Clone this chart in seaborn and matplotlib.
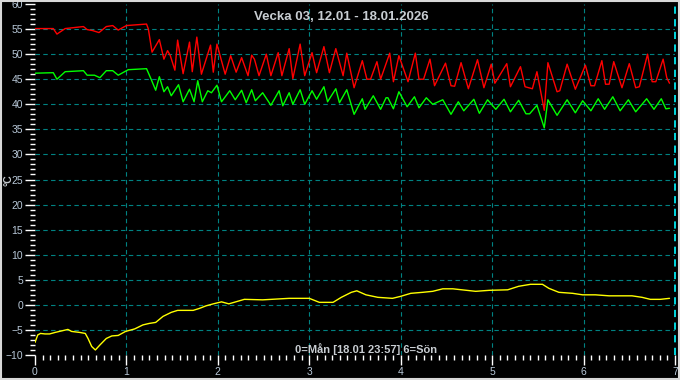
import matplotlib
matplotlib.use('Agg')
import matplotlib.pyplot as plt
import seaborn as sns
import pandas as pd
from matplotlib.ticker import MultipleLocator
from matplotlib.patches import Rectangle

# Turning points, x in days (0=Mån ... 7)
red_t = [0.00, 0.20, 0.24, 0.33, 0.53, 0.57, 0.63, 0.70, 0.78, 0.85, 0.91, 1.00, 1.22, 1.24,
         1.28, 1.36, 1.41, 1.45, 1.48, 1.53, 1.56, 1.62, 1.69, 1.72, 1.77, 1.82, 1.92, 1.95,
         1.99, 2.08, 2.14, 2.20, 2.26, 2.33, 2.37, 2.40, 2.45, 2.53, 2.58, 2.66, 2.70, 2.78,
         2.82, 2.90, 2.95, 3.03, 3.08, 3.16, 3.22, 3.29, 3.37, 3.41, 3.49, 3.58, 3.63, 3.67,
         3.74, 3.78, 3.88, 3.92, 3.98, 4.08, 4.16, 4.20, 4.25, 4.32, 4.37, 4.49, 4.55, 4.59,
         4.66, 4.74, 4.84, 4.91, 4.99, 5.03, 5.16, 5.20, 5.31, 5.36, 5.44, 5.49, 5.57, 5.61,
         5.71, 5.74, 5.82, 5.91, 6.02, 6.08, 6.12, 6.20, 6.24, 6.28, 6.33, 6.42, 6.50, 6.57,
         6.61, 6.70, 6.75, 6.79, 6.87, 6.91, 6.94]
red_v = [55.1, 55.1, 54.0, 55.1, 55.5, 54.9, 54.7, 54.3, 55.5, 55.7, 54.8, 55.7, 56.0, 55.0,
         50.4, 52.9, 49.0, 50.7, 49.7, 46.8, 52.8, 46.1, 52.4, 46.5, 53.4, 46.0, 51.8, 46.4,
         52.0, 46.0, 49.7, 46.4, 49.3, 45.7, 49.8, 49.0, 45.7, 50.0, 45.7, 50.3, 45.7, 51.1,
         45.1, 52.0, 45.7, 50.3, 46.3, 51.5, 46.3, 51.1, 45.7, 50.2, 43.3, 48.7, 45.0, 45.0,
         48.5, 45.0, 50.2, 44.5, 49.7, 44.5, 50.2, 45.0, 45.0, 49.0, 43.7, 48.2, 43.7, 43.6,
         48.3, 43.1, 48.9, 43.3, 48.0, 44.2, 48.1, 43.5, 47.5, 43.5, 43.1, 46.5, 38.8, 48.3,
         42.5, 42.7, 48.0, 43.0, 47.8, 43.7, 43.7, 48.7, 44.0, 44.0, 48.5, 43.3, 48.1, 43.3,
         43.5, 50.0, 44.5, 44.5, 49.0, 45.3, 44.2]

green_t = [0.00, 0.20, 0.24, 0.33, 0.53, 0.57, 0.65, 0.71, 0.78, 0.85, 0.91, 1.02, 1.22, 1.27,
           1.32, 1.36, 1.41, 1.45, 1.49, 1.57, 1.62, 1.69, 1.74, 1.78, 1.83, 1.89, 1.93, 1.99,
           2.04, 2.13, 2.19, 2.26, 2.31, 2.37, 2.41, 2.49, 2.58, 2.67, 2.71, 2.78, 2.82, 2.90,
           2.95, 3.03, 3.08, 3.16, 3.20, 3.29, 3.33, 3.41, 3.49, 3.58, 3.61, 3.70, 3.78, 3.84,
           3.86, 3.92, 3.98, 4.07, 4.15, 4.20, 4.28, 4.35, 4.46, 4.55, 4.63, 4.69, 4.80, 4.86,
           4.95, 5.04, 5.13, 5.20, 5.29, 5.37, 5.41, 5.49, 5.57, 5.61, 5.71, 5.82, 5.91, 5.99,
           6.08, 6.16, 6.23, 6.32, 6.40, 6.49, 6.57, 6.69, 6.77, 6.85, 6.90, 6.94]
green_v = [46.2, 46.3, 45.0, 46.5, 46.7, 45.8, 45.8, 45.3, 46.7, 46.7, 45.8, 46.9, 47.1, 45.0,
           42.8, 45.5, 42.5, 43.5, 41.7, 43.9, 40.5, 43.0, 40.5, 44.7, 40.5, 42.7, 42.3, 43.8,
           40.5, 42.7, 40.9, 42.8, 40.3, 42.9, 40.7, 42.3, 39.8, 42.7, 39.7, 42.3, 40.0, 42.9,
           40.0, 42.7, 41.0, 43.5, 40.5, 43.1, 40.3, 42.9, 38.0, 41.1, 39.0, 41.7, 39.0, 41.3,
           41.3, 39.1, 42.5, 39.5, 41.5, 39.3, 41.3, 40.0, 40.9, 38.0, 40.5, 38.7, 41.0, 38.2,
           40.9, 39.0, 41.0, 38.5, 40.8, 38.1, 38.1, 39.8, 35.3, 40.9, 37.8, 40.9, 38.3, 40.7,
           38.7, 41.1, 39.0, 41.5, 38.7, 40.9, 38.5, 41.1, 39.0, 41.1, 39.1, 39.2]

yellow_t = [0.00, 0.03, 0.06, 0.11, 0.16, 0.22, 0.29, 0.36, 0.40, 0.49, 0.55, 0.58, 0.62, 0.66,
            0.71, 0.78, 0.84, 0.91, 0.99, 1.09, 1.18, 1.25, 1.32, 1.40, 1.49, 1.56, 1.73, 1.80,
            1.87, 1.95, 2.04, 2.12, 2.29, 2.49, 2.78, 3.00, 3.11, 3.26, 3.35, 3.46, 3.52, 3.62,
            3.75, 3.91, 4.00, 4.11, 4.24, 4.35, 4.46, 4.57, 4.82, 4.97, 5.17, 5.29, 5.42, 5.55,
            5.62, 5.73, 5.88, 5.99, 6.13, 6.28, 6.53, 6.64, 6.73, 6.84, 6.94]
yellow_v = [-7.5, -6.0, -5.7, -5.8, -5.8, -5.5, -5.2, -4.9, -5.3, -5.5, -5.7, -6.7, -8.3, -9.0,
            -8.0, -6.7, -6.2, -6.1, -5.3, -4.8, -4.0, -3.7, -3.5, -2.3, -1.5, -1.1, -1.1, -0.7,
            -0.2, 0.2, 0.6, 0.2, 1.1, 1.0, 1.3, 1.3, 0.5, 0.5, 1.5, 2.5, 2.8, 2.0,
            1.5, 1.3, 1.7, 2.3, 2.5, 2.7, 3.2, 3.2, 2.7, 2.9, 3.0, 3.7, 4.1, 4.1,
            3.3, 2.5, 2.3, 2.0, 2.0, 1.8, 1.8, 1.5, 1.1, 1.1, 1.3]

title = 'Vecka 03, 12.01 - 18.01.2026'
footer = '0=Mån [18.01 23:57] 6=Sön'

sns.set_style('dark')
plt.rcParams['font.family'] = ['Liberation Sans', 'DejaVu Sans']

W, H = 680, 380
fig = plt.figure(figsize=(W / 100, H / 100), dpi=100, facecolor='black')
ax = fig.add_axes([35 / W, 25 / H, 640 / W, 351 / H])
ax.set_facecolor('black')

# grid
grid_col = '#008282'
for y in range(-5, 60, 5):
    ax.axhline(y, color=grid_col, lw=0.8, ls=(0, (4, 3)), zorder=1)
for x in range(1, 7):
    ax.axvline(x, color=grid_col, lw=0.8, ls=(0, (4, 3)), zorder=1)
ax.axvline(7, color='#00e8f0', lw=1.3, ls=(0, (4, 3)), zorder=1, clip_on=False)

for t, v, c in [(red_t, red_v, '#ff0000'), (green_t, green_v, '#00ff00'),
                (yellow_t, yellow_v, '#ffff00')]:
    df = pd.DataFrame({'t': t, 'v': v})
    sns.lineplot(data=df, x='t', y='v', color=c, lw=1.0, sort=False,
                 estimator=None, ax=ax, zorder=3)

ax.set_xlim(0, 7)
ax.set_ylim(-10, 60)
ax.set_xlabel('')
ax.set_ylabel('')
for s in ax.spines.values():
    s.set_visible(False)
ax.grid(False)

ax.xaxis.set_major_locator(MultipleLocator(1))
ax.xaxis.set_minor_locator(MultipleLocator(1 / 12))
ax.yaxis.set_major_locator(MultipleLocator(5))
ax.yaxis.set_minor_locator(MultipleLocator(1))
lab_col = '#b8c8d8'
ax.tick_params(which='major', direction='out', length=7, width=1, color='white',
               labelcolor=lab_col, labelsize=7.5, pad=1.5)
ax.tick_params(which='minor', direction='out', length=3.5, width=1, color='white')
ax.tick_params(axis='both', which='both', bottom=True, left=True)

fig.text(341 / W, 1 - 17 / H, title, ha='center', va='center', fontsize=9.5,
         fontweight='bold', color='#c8cdd2')
fig.text(366 / W, 1 - 349 / H, footer, ha='center', va='center', fontsize=8,
         fontweight='bold', color='#c8cdd2')
fig.text(3 / W, 1 - 180 / H, '°C', ha='left', va='center', rotation=90,
         fontsize=7.5, fontweight='bold', color='#c8cdd2')

fig.patches.append(Rectangle((0.001, 0.002), 0.997, 0.996, transform=fig.transFigure,
                             fill=False, edgecolor='#d8d8d8', lw=1.5))

fig.savefig('out.png', dpi=100, facecolor='black')
